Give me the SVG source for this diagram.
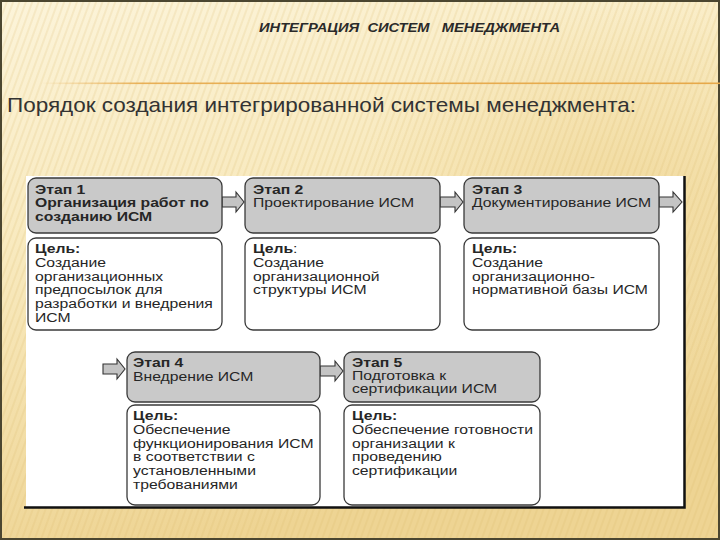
<svg xmlns="http://www.w3.org/2000/svg" width="720" height="540" viewBox="0 0 720 540">
  <defs>
    <linearGradient id="bg" x1="0" y1="0" x2="0.3" y2="1">
      <stop offset="0" stop-color="#fcf4da"/>
      <stop offset="0.45" stop-color="#f8e9bd"/>
      <stop offset="1" stop-color="#eed493"/>
    </linearGradient>
    <radialGradient id="glow" cx="0.85" cy="0.35" r="0.35">
      <stop offset="0" stop-color="#efd594" stop-opacity="0.6"/>
      <stop offset="1" stop-color="#efd594" stop-opacity="0"/>
    </radialGradient>
    <pattern id="stripes" width="6" height="6" patternUnits="userSpaceOnUse" patternTransform="rotate(20)">
      <rect x="0" y="0" width="2" height="6" fill="#d9b86a" opacity="0.18"/>
    </pattern>
    <linearGradient id="rule" x1="0" y1="0" x2="1" y2="0">
      <stop offset="0" stop-color="#e6a94a" stop-opacity="0"/>
      <stop offset="0.15" stop-color="#e6a94a" stop-opacity="0.9"/>
      <stop offset="1" stop-color="#e6a94a"/>
    </linearGradient>
    <style>
      .t { font-family: "Liberation Sans", Arial, sans-serif; font-size: 12.3px; fill: #262626; }
      .b { font-weight: bold; }
      .hdr { fill: #c9c9c9; stroke: #3a3a3a; stroke-width: 1.3; }
      .body { fill: #ffffff; stroke: #3a3a3a; stroke-width: 1.3; }
      .arr { fill: #c4c4c4; stroke: #333; stroke-width: 1.1; stroke-linejoin: miter; }
    </style>
  </defs>

  <!-- slide background -->
  <rect x="0" y="0" width="720" height="540" fill="url(#bg)"/>
  <rect x="0" y="0" width="720" height="540" fill="url(#glow)"/>
  <rect x="0" y="0" width="720" height="540" fill="url(#stripes)"/>
  <rect x="1" y="1" width="718" height="538" fill="none" stroke="#4b4630" stroke-width="2"/>

  <text x="259" y="32" font-family="'Liberation Sans', Arial, sans-serif" font-size="12" font-style="italic" font-weight="bold" fill="#2a2a2a" textLength="301" lengthAdjust="spacingAndGlyphs" xml:space="preserve">ИНТЕГРАЦИЯ  СИСТЕМ   МЕНЕДЖМЕНТА</text>
  <rect x="40" y="82.5" width="680" height="1.6" fill="url(#rule)"/>
  <text x="7" y="112" font-family="'Liberation Sans', Arial, sans-serif" font-size="21" fill="#333" textLength="629" lengthAdjust="spacingAndGlyphs">Порядок создания интегрированной системы менеджмента:</text>

  <!-- white picture panel -->
  <rect x="26" y="176" width="658" height="331" fill="#ffffff"/>
  <path d="M684.5 176 V507.5 H24" fill="none" stroke="#111" stroke-width="2.5"/>

  <g id="connectors">
    <polygon class="arr" points="222,197 236,197 236,192 244,202 236,212 236,207 222,207"/>
    <polygon class="arr" points="440,197 455,197 455,192 463,202 455,212 455,207 440,207"/>
    <polygon class="arr" points="659,197 673,197 673,192 682,202 673,212 673,207 659,207"/>
    <polygon class="arr" points="103,364 117,364 117,359 125,369 117,379 117,374 103,374"/>
    <polygon class="arr" points="320,366 335,366 335,361 343,371 335,381 335,376 320,376"/>
  </g>

  <g id="stage1">
    <rect class="hdr" x="28" y="178" width="194" height="55" rx="8"/>
    <text class="t b" transform="translate(35,194) scale(1.28,1)"><tspan x="0">Этап 1</tspan><tspan x="0" dy="13.5">Организация работ по</tspan><tspan x="0" dy="13.5">созданию ИСМ</tspan></text>
  </g>
  <g id="goal1">
    <rect class="body" x="28" y="238" width="194" height="92" rx="8"/>
    <text class="t" transform="translate(35,253) scale(1.28,1)"><tspan x="0" class="b">Цель:</tspan><tspan x="0" dy="13.8">Создание</tspan><tspan x="0" dy="13.8">организационных</tspan><tspan x="0" dy="13.8">предпосылок для</tspan><tspan x="0" dy="13.8">разработки и внедрения</tspan><tspan x="0" dy="13.8">ИСМ</tspan></text>
  </g>

  <g id="stage2">
    <rect class="hdr" x="245" y="178" width="195" height="55" rx="8"/>
    <text class="t" transform="translate(253,194) scale(1.28,1)"><tspan x="0" class="b">Этап 2</tspan><tspan x="0" dy="13">Проектирование ИСМ</tspan></text>
  </g>
  <g id="goal2">
    <rect class="body" x="245" y="238" width="195" height="92" rx="8"/>
    <text class="t" transform="translate(253,253) scale(1.28,1)"><tspan x="0" class="b">Цель</tspan><tspan>:</tspan><tspan x="0" dy="13.8">Создание</tspan><tspan x="0" dy="13.8">организационной</tspan><tspan x="0" dy="13.8">структуры ИСМ</tspan></text>
  </g>

  <g id="stage3">
    <rect class="hdr" x="464" y="178" width="195" height="55" rx="8"/>
    <text class="t" transform="translate(472,194) scale(1.28,1)"><tspan x="0" class="b">Этап 3</tspan><tspan x="0" dy="13">Документирование ИСМ</tspan></text>
  </g>
  <g id="goal3">
    <rect class="body" x="464" y="238" width="195" height="92" rx="8"/>
    <text class="t" transform="translate(472,253) scale(1.28,1)"><tspan x="0" class="b">Цель:</tspan><tspan x="0" dy="13.8">Создание</tspan><tspan x="0" dy="13.8">организационно-</tspan><tspan x="0" dy="13.8">нормативной базы ИСМ</tspan></text>
  </g>

  <g id="stage4">
    <rect class="hdr" x="127" y="352" width="193" height="50" rx="8"/>
    <text class="t" transform="translate(133,367) scale(1.28,1)"><tspan x="0" class="b">Этап 4</tspan><tspan x="0" dy="14">Внедрение ИСМ</tspan></text>
  </g>
  <g id="goal4">
    <rect class="body" x="127" y="405" width="193" height="100" rx="8"/>
    <text class="t" transform="translate(133,420) scale(1.28,1)"><tspan x="0" class="b">Цель:</tspan><tspan x="0" dy="13.8">Обеспечение</tspan><tspan x="0" dy="13.8">функционирования ИСМ</tspan><tspan x="0" dy="13.8">в соответствии с</tspan><tspan x="0" dy="13.8">установленными</tspan><tspan x="0" dy="13.8">требованиями</tspan></text>
  </g>

  <g id="stage5">
    <rect class="hdr" x="344" y="352" width="196" height="50" rx="8"/>
    <text class="t" transform="translate(352,367) scale(1.28,1)"><tspan x="0" class="b">Этап 5</tspan><tspan x="0" dy="13">Подготовка к</tspan><tspan x="0" dy="13">сертификации ИСМ</tspan></text>
  </g>
  <g id="goal5">
    <rect class="body" x="344" y="405" width="196" height="100" rx="8"/>
    <text class="t" transform="translate(352,420) scale(1.28,1)"><tspan x="0" class="b">Цель:</tspan><tspan x="0" dy="13.8">Обеспечение готовности</tspan><tspan x="0" dy="13.8">организации к</tspan><tspan x="0" dy="13.8">проведению</tspan><tspan x="0" dy="13.8">сертификации</tspan></text>
  </g>
</svg>
